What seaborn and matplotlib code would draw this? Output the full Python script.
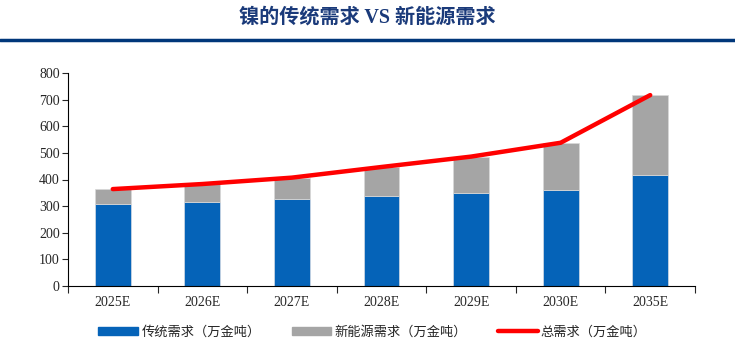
import numpy as np
import pandas as pd
import seaborn as sns
import matplotlib
matplotlib.use('Agg')
from matplotlib import pyplot as plt
from matplotlib.lines import Line2D
from matplotlib.patches import Patch

# data
years = ['2025E', '2026E', '2027E', '2028E', '2029E', '2030E', '2035E']
traditional = [308, 316, 327, 339, 350, 360, 417]
total = [364, 383, 407, 447, 486, 538, 717]
new_energy = [t - a for t, a in zip(total, traditional)]
y_ticks = [0, 100, 200, 300, 400, 500, 600, 700, 800]

title = '镍的传统需求 VS 新能源需求'
label_trad = '传统需求（万金吨）'
label_new = '新能源需求（万金吨）'
label_total = '总需求（万金吨）'

blue = '#0563B8'
gray = '#A5A5A5'
red = '#FF0000'

sns.set_style('white')
plt.rcParams['font.family'] = ['Liberation Serif', 'Noto Sans CJK SC']

df = pd.DataFrame({'year': years, 'trad': traditional, 'new': new_energy, 'total': total})

fig = plt.figure(figsize=(7.35, 3.53), dpi=100)
ax = fig.add_axes([68 / 735, 1 - 286 / 353, (695 - 68) / 735, (286 - 73) / 353])

sns.barplot(data=df, x='year', y='trad', color=blue, width=0.4, ax=ax,
            saturation=1, errorbar=None, edgecolor='#D6DCE4', linewidth=0.5)
sns.barplot(data=df, x='year', y='new', bottom=df['trad'], color=gray, width=0.4,
            ax=ax, saturation=1, errorbar=None, edgecolor='#D9D9D9', linewidth=0.5)
sns.pointplot(data=df, x='year', y='total', color=red, marker='', linewidth=3.2,
              errorbar=None, ax=ax)

ax.set_xlim(-0.5, len(years) - 0.5)
ax.set_ylim(0, 800)
ax.set_yticks(y_ticks)
ax.set_yticklabels([str(v) for v in y_ticks], fontsize=10)
ax.set_xticks(np.arange(len(years) + 1) - 0.5)
ax.set_xticklabels([])
ax.set_xticks(np.arange(len(years)), minor=True)
ax.set_xticklabels(years, minor=True, fontsize=10)
ax.tick_params(axis='x', which='major', length=5, width=0.8, direction='out', bottom=True)
ax.tick_params(axis='x', which='minor', length=0, pad=7)
ax.tick_params(axis='y', length=4, width=0.8, direction='out', left=True, pad=2)
ax.set_xlabel('')
ax.set_ylabel('')
for s in ['top', 'right']:
    ax.spines[s].set_visible(False)
for s in ['left', 'bottom']:
    ax.spines[s].set_color('black')
    ax.spines[s].set_linewidth(0.8)

# title and rule
fig.text(0.5, 1 - 18 / 353, title, ha='center', va='center', fontsize=14.5,
         fontweight='bold', color='#1A3A7A')
fig.add_artist(Line2D([0, 1], [1 - 40 / 353, 1 - 40 / 353], color='#00377A',
                      linewidth=2.5, transform=fig.transFigure))

# legend
handles = [Patch(color=blue), Patch(color=gray), Line2D([], [], color=red, linewidth=3.2)]
fig.legend(handles, [label_trad, label_new, label_total], ncol=3, frameon=False,
           loc='center', bbox_to_anchor=(0.507, 1 - 332 / 353),
           handlelength=3.0, handleheight=0.6, columnspacing=2.35, handletextpad=0.25,
           prop={'family': ['Noto Sans CJK SC'], 'size': 9.5})

fig.savefig('out.png', dpi=100)
